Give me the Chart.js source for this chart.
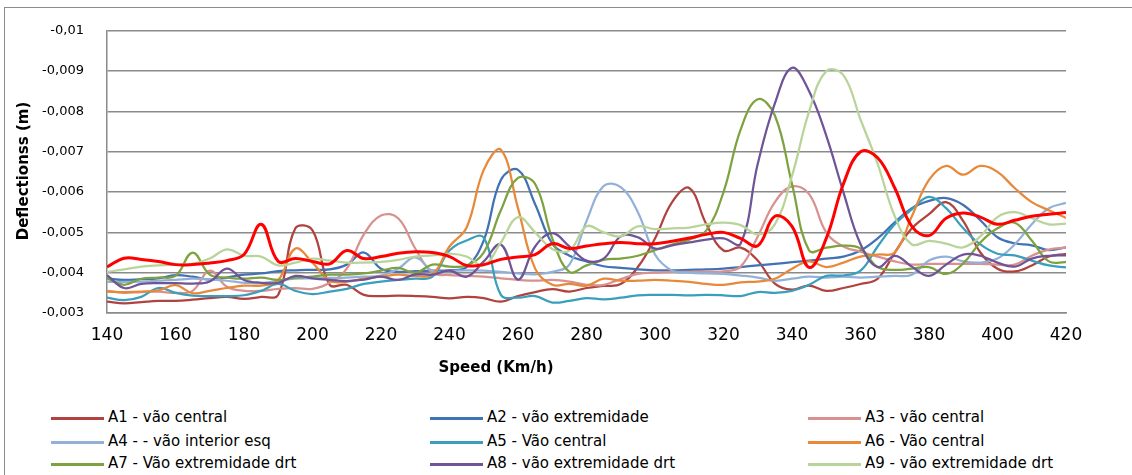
<!DOCTYPE html>
<html>
<head>
<meta charset="utf-8">
<script src="https://cdn.jsdelivr.net/npm/chart.js@4.4.1/dist/chart.umd.min.js"></script>
<style>
  html, body { margin: 0; padding: 0; background: #fff; overflow: hidden; }
  #moldura { position: absolute; left: 4px; top: 7px; width: 1200px; height: 600px; border: 1px solid #8c8c8c; }
  #area { position: absolute; left: 0; top: 0; width: 1132px; height: 400px; }
  .item { position: absolute; height: 20px; line-height: 20px; font: 15px "DejaVu Sans", sans-serif; color: #000; white-space: nowrap; }
  .item i { position: absolute; left: 0; top: 9px; width: 53px; height: 3px; }
  .item span { position: absolute; left: 57px; top: 0; }
</style>
</head>
<body>
<div id="moldura"></div>
<div id="area"><canvas id="graficoDeflexoes"></canvas></div>
<div id="legenda"></div>
<script>
// Velocidades (km/h)
const velocidades = [140, 145, 150, 155, 160, 165, 170, 175, 180, 185, 190, 195, 200, 205, 210, 215, 220, 225, 230,
  235, 240, 245, 250, 255, 260, 265, 270, 275, 280, 285, 290, 295, 300, 305, 310, 315, 320, 325, 330,
  335, 340, 345, 350, 355, 360, 365, 370, 375, 380, 385, 390, 395, 400, 405, 410, 415, 420];

const ticksX = [140, 160, 180, 200, 220, 240, 260, 280, 300, 320, 340, 360, 380, 400, 420];
const valoresTicksY = [-0.01, -0.009, -0.008, -0.007, -0.006, -0.005, -0.004, -0.003];
const ticksY = ['-0,01', '-0,009', '-0,008', '-0,007', '-0,006', '-0,005', '-0,004', '-0,003'];

const tituloX = 'Speed (Km/h)';
const tituloY = 'Deflectionss (m)';

const nomes = ['A1 - vão central', 'A2 - vão extremidade', 'A3 - vão central',
  'A4 - - vão interior esq', 'A5 - Vão central', 'A6 - Vão central',
  'A7 - Vão extremidade drt', 'A8 - vão extremidade drt', 'A9 - vão extremidade drt', 'Média'];

const cores = ['#B0423F', '#4172B4', '#D8918F', '#93B1D8', '#3A9FBC', '#E8893A', '#7DA23F', '#6F5597', '#B9D49A', '#FF0000'];

// Deflexões (m)
const a1 = [-0.00328, -0.00324, -0.00327, -0.0033, -0.0033, -0.00333, -0.00337, -0.0034, -0.00335, -0.0034, -0.00345, -0.0051, -0.00505, -0.0037, -0.0037, -0.00345, -0.00342, -0.00343, -0.00342,
  -0.0034, -0.00336, -0.0034, -0.00337, -0.00328, -0.00342, -0.00352, -0.00359, -0.00353, -0.00362,
  -0.00367, -0.00372, -0.00414, -0.00485, -0.00575, -0.0061, -0.0052, -0.00455, -0.00462, -0.0043,
  -0.00373, -0.00358, -0.00368, -0.00355, -0.00362, -0.00372, -0.00385, -0.0045, -0.0051, -0.00545,
  -0.00575, -0.00528, -0.0045, -0.0041, -0.00403, -0.00418, -0.0044, -0.00447];

const a2 = [-0.00386, -0.00382, -0.00384, -0.00386, -0.00394, -0.0039, -0.00383, -0.00388, -0.00395, -0.00398, -0.00404, -0.00406, -0.00407, -0.00408, -0.0042, -0.0045, -0.0041, -0.00402, -0.00404,
  -0.00405, -0.00406, -0.00414, -0.0048, -0.0063, -0.00655, -0.0057, -0.00472, -0.00442, -0.00428,
  -0.00416, -0.00412, -0.00408, -0.00406, -0.00406, -0.00407, -0.00408, -0.0041, -0.00414, -0.00418,
  -0.00422, -0.00426, -0.0043, -0.00435, -0.0044, -0.00455, -0.00485, -0.00525, -0.0056, -0.00578,
  -0.00585, -0.00568, -0.0053, -0.00488, -0.00473, -0.00468, -0.00456, -0.00463];

const a3 = [-0.00355, -0.0035, -0.00352, -0.00353, -0.0035, -0.00355, -0.00405, -0.00365, -0.00355, -0.00355, -0.0036, -0.00362, -0.0036, -0.00375, -0.0041, -0.00495, -0.00542, -0.00535, -0.0046,
  -0.004, -0.00394, -0.00392, -0.0039, -0.00386, -0.00382, -0.0038, -0.00382, -0.00378, -0.0037,
  -0.0037, -0.00384, -0.00397, -0.004, -0.00402, -0.00402, -0.00402, -0.00403, -0.00415, -0.0049,
  -0.00575, -0.00614, -0.00595, -0.005, -0.00465, -0.00452, -0.0044, -0.00428, -0.0042, -0.00422,
  -0.00422, -0.00422, -0.00422, -0.0042, -0.0042, -0.00442, -0.00457, -0.00462];

const a4 = [-0.00377, -0.00377, -0.00378, -0.0038, -0.00382, -0.00385, -0.00383, -0.0038, -0.00375, -0.00374, -0.0038, -0.00385, -0.00386, -0.00387, -0.00388, -0.0039, -0.00393, -0.0041, -0.00438,
  -0.00405, -0.00404, -0.00406, -0.00405, -0.00402, -0.00398, -0.00396, -0.00402, -0.0042, -0.00528,
  -0.00615, -0.00612, -0.0055, -0.00445, -0.00405, -0.004, -0.00398, -0.00397, -0.00393, -0.00388,
  -0.0038, -0.00385, -0.0039, -0.00388, -0.0039, -0.00388, -0.0039, -0.00392, -0.00395, -0.0043,
  -0.0044, -0.00428, -0.00425, -0.00435, -0.0047, -0.0052, -0.0056, -0.00573];

const a5 = [-0.00338, -0.00332, -0.0034, -0.00362, -0.0035, -0.00343, -0.00342, -0.00342, -0.00344, -0.00355, -0.00372, -0.00355, -0.00347, -0.00353, -0.0036, -0.00372, -0.00378, -0.00382, -0.00385,
  -0.0039, -0.00455, -0.0048, -0.00487, -0.00345, -0.00338, -0.00342, -0.00326, -0.0033, -0.00337,
  -0.00334, -0.00338, -0.00344, -0.00345, -0.00345, -0.00344, -0.00345, -0.00344, -0.00342, -0.00352,
  -0.0035, -0.00355, -0.0037, -0.00392, -0.00393, -0.00405, -0.00465, -0.0052, -0.00557, -0.00588,
  -0.0056, -0.0051, -0.0047, -0.00447, -0.00443, -0.0043, -0.00418, -0.00413];

const a6 = [-0.00353, -0.00352, -0.00353, -0.00356, -0.00369, -0.00349, -0.00355, -0.00362, -0.00368, -0.00368, -0.00382, -0.0046, -0.00425, -0.0038, -0.00378, -0.00385, -0.0039, -0.00395, -0.00392,
  -0.00395, -0.00465, -0.00512, -0.00655, -0.00705, -0.0056, -0.0041, -0.0037, -0.00372, -0.00368,
  -0.00385, -0.0038, -0.0038, -0.00382, -0.0038, -0.00377, -0.00372, -0.0037, -0.00376, -0.00378,
  -0.00385, -0.0041, -0.00428, -0.00414, -0.00425, -0.0044, -0.00445, -0.0045, -0.0054, -0.0063,
  -0.00665, -0.00643, -0.00665, -0.0065, -0.0061, -0.00575, -0.00555, -0.00536];

const a7 = [-0.00386, -0.0037, -0.00385, -0.00388, -0.00392, -0.0045, -0.00395, -0.00388, -0.00385, -0.00388, -0.00382, -0.00388, -0.0039, -0.00395, -0.00395, -0.00398, -0.00405, -0.00412, -0.004,
  -0.0042, -0.00415, -0.00418, -0.0045, -0.00555, -0.00635, -0.0062, -0.00485, -0.00402, -0.00418,
  -0.00432, -0.00435, -0.00442, -0.00456, -0.0047, -0.00482, -0.00505, -0.006, -0.00755, -0.0083,
  -0.0079, -0.0062, -0.00455, -0.00462, -0.00467, -0.0046, -0.00414, -0.00407, -0.0041, -0.00414,
  -0.00397, -0.00423, -0.00475, -0.0051, -0.00524, -0.0048, -0.00428, -0.00426];

const a8 = [-0.00394, -0.00362, -0.00372, -0.00374, -0.00374, -0.00373, -0.00378, -0.0041, -0.00382, -0.00375, -0.00375, -0.00392, -0.00386, -0.00382, -0.00379, -0.00383, -0.0039, -0.00382, -0.00396,
  -0.00395, -0.00405, -0.0039, -0.00428, -0.0047, -0.00383, -0.00465, -0.00498, -0.00465, -0.0043,
  -0.00435, -0.0049, -0.00488, -0.0046, -0.00468, -0.00475, -0.00482, -0.00485, -0.00472, -0.0067,
  -0.0082, -0.00908, -0.0085, -0.0074, -0.006, -0.00471, -0.00414, -0.00442, -0.00415, -0.00392,
  -0.0042, -0.00445, -0.00442, -0.00425, -0.00415, -0.00435, -0.00442, -0.00443];

const a9 = [-0.00402, -0.00408, -0.00415, -0.00418, -0.0042, -0.00422, -0.00435, -0.00458, -0.00442, -0.0044, -0.00418, -0.00425, -0.00435, -0.0043, -0.00425, -0.00425, -0.00427, -0.00432, -0.0044,
  -0.00443, -0.00447, -0.0044, -0.00418, -0.00475, -0.00538, -0.005, -0.00459, -0.00455, -0.00515,
  -0.005, -0.0049, -0.00515, -0.00508, -0.0051, -0.00512, -0.0052, -0.00524, -0.00518, -0.00495,
  -0.0052, -0.0064, -0.008, -0.009, -0.0089, -0.0078, -0.0067, -0.0054, -0.0047, -0.00479,
  -0.00472, -0.00463, -0.0049, -0.00538, -0.0055, -0.00535, -0.0052, -0.00522];

const media = [-0.00414, -0.00436, -0.00433, -0.00428, -0.0042, -0.0042, -0.00424, -0.0043, -0.00445, -0.0052, -0.00428, -0.00435, -0.00428, -0.00422, -0.00455, -0.00435, -0.0044, -0.00448, -0.00452,
  -0.0045, -0.0044, -0.00418, -0.0042, -0.00433, -0.00439, -0.00445, -0.00472, -0.0046, -0.00466,
  -0.00472, -0.00475, -0.00472, -0.00472, -0.00478, -0.00486, -0.00495, -0.005, -0.00485, -0.00467,
  -0.0054, -0.00515, -0.00413, -0.00485, -0.0062, -0.007, -0.00685, -0.0061, -0.00515, -0.00492,
  -0.00535, -0.00548, -0.00538, -0.0052, -0.0053, -0.0054, -0.00545, -0.00549];

const series = [a1, a2, a3, a4, a5, a6, a7, a8, a9, media];

// Títulos dos eixos desenhados na posição do original
const titulosEixos = {
  id: 'titulosEixos',
  afterDraw(chart) {
    const ctx = chart.ctx;
    ctx.save();
    ctx.fillStyle = '#000';
    ctx.font = 'bold 15px "DejaVu Sans"';
    ctx.textAlign = 'center';
    ctx.textBaseline = 'middle';
    ctx.fillText(tituloX, 496, 368);
    ctx.translate(24, 171);
    ctx.rotate(-Math.PI / 2);
    ctx.fillText(tituloY, 0, 0);
    ctx.restore();
  }
};

Chart.defaults.font.family = '"DejaVu Sans", sans-serif';
Chart.defaults.color = '#000';

const datasets = series.map((valores, i) => ({
  label: nomes[i],
  data: valores.map((v, j) => ({ x: velocidades[j], y: v })),
  borderColor: cores[i],
  backgroundColor: cores[i],
  borderWidth: i === series.length - 1 ? 3 : 2.25,
  pointRadius: 0,
  tension: 0.4,
  fill: false,
  order: series.length - i
}));

new Chart(document.getElementById('graficoDeflexoes').getContext('2d'), {
  type: 'line',
  data: { datasets },
  options: {
    responsive: true,
    maintainAspectRatio: false,
    animation: false,
    devicePixelRatio: 1,
    layout: { padding: { left: 0, top: 27, right: 66, bottom: 47 } },
    plugins: { legend: { display: false }, tooltip: { enabled: false } },
    scales: {
      x: {
        type: 'linear',
        min: 140,
        max: 420,
        afterFit: (scale) => { scale.height = 40; },
        afterBuildTicks: (scale) => { scale.ticks = ticksX.map(v => ({ value: v })); },
        ticks: { font: { size: 17 }, padding: 12, maxRotation: 0, autoSkip: false },
        grid: { drawOnChartArea: false, drawTicks: false },
        border: { display: true, color: '#8a8a8a', width: 1.5 }
      },
      y: {
        min: -0.01,
        max: -0.003,
        reverse: true,
        afterFit: (scale) => { scale.width = 107; },
        afterBuildTicks: (scale) => { scale.ticks = valoresTicksY.map(v => ({ value: v })); },
        ticks: {
          font: { size: 13 },
          padding: 23,
          autoSkip: false,
          callback: (valor, indice) => ticksY[indice]
        },
        grid: { color: '#8a8a8a', lineWidth: 1.5, drawTicks: false },
        border: { display: true, color: '#8a8a8a', width: 1.5 }
      }
    }
  },
  plugins: [titulosEixos]
});

// Legenda em três colunas, como no original
const legenda = document.getElementById('legenda');
const colunas = [51, 430, 808];
const linhas = [408, 432, 454];
nomes.slice(0, 9).forEach((nome, i) => {
  const el = document.createElement('div');
  el.className = 'item';
  el.style.left = colunas[i % 3] + 'px';
  el.style.top = linhas[Math.floor(i / 3)] + 'px';
  el.innerHTML = `<i style="background:${cores[i]}"></i><span>${nome}</span>`;
  legenda.appendChild(el);
});
</script>
</body>
</html>
